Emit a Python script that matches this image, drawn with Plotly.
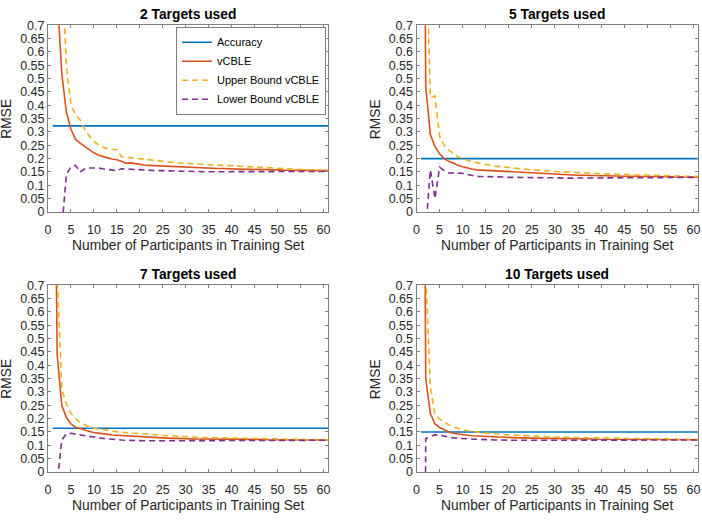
import plotly.graph_objects as go

# ---------------- data ----------------
x_participants = list(range(1, 62))

panel_titles = ["2 Targets used", "5 Targets used", "7 Targets used", "10 Targets used"]
series_names = ["Accuracy", "vCBLE", "Upper Bound vCBLE", "Lower Bound vCBLE"]

accuracy = [0.323, 0.200, 0.164, 0.150]

vcble_2 = [1.6, 0.82, 0.52, 0.375, 0.31, 0.272, 0.258, 0.245, 0.232, 0.222,
           0.213, 0.207, 0.203, 0.199, 0.196, 0.19, 0.183, 0.184, 0.181, 0.177,
           0.176, 0.175, 0.174, 0.173, 0.172, 0.171, 0.170, 0.169, 0.168, 0.168,
           0.167, 0.166, 0.166, 0.165, 0.164, 0.164, 0.163, 0.163, 0.162, 0.162,
           0.161, 0.161, 0.160, 0.160, 0.160, 0.159, 0.159, 0.158, 0.158, 0.158,
           0.157, 0.157, 0.157, 0.156, 0.156, 0.156, 0.155, 0.155, 0.155, 0.155, 0.155]
upper_2 = [2.0, 1.3, 0.95, 0.55, 0.40, 0.365, 0.345, 0.31, 0.285, 0.265,
           0.252, 0.243, 0.237, 0.235, 0.234, 0.207, 0.205, 0.203, 0.201, 0.199,
           0.197, 0.195, 0.193, 0.191, 0.190, 0.188, 0.186, 0.184, 0.183, 0.182,
           0.181, 0.180, 0.179, 0.178, 0.177, 0.176, 0.175, 0.174, 0.173, 0.172,
           0.171, 0.170, 0.169, 0.168, 0.167, 0.166, 0.166, 0.165, 0.164, 0.163,
           0.163, 0.162, 0.161, 0.160, 0.160, 0.159, 0.158, 0.158, 0.157, 0.157, 0.156]
lower_2 = [-0.6, -0.3, -0.065, 0.14, 0.17, 0.175, 0.15, 0.162, 0.165, 0.165,
           0.165, 0.162, 0.16, 0.157, 0.155, 0.162, 0.161, 0.160, 0.158, 0.157,
           0.156, 0.156, 0.155, 0.155, 0.155, 0.154, 0.154, 0.153, 0.153, 0.153,
           0.152, 0.152, 0.152, 0.151, 0.151, 0.151, 0.151, 0.150, 0.150, 0.150,
           0.150, 0.150, 0.150, 0.150, 0.151, 0.150, 0.150, 0.150, 0.151, 0.151,
           0.151, 0.151, 0.151, 0.151, 0.152, 0.151, 0.151, 0.151, 0.152, 0.152, 0.152]

vcble_5 = [3.0, 0.47, 0.29, 0.245, 0.218, 0.200, 0.19, 0.181, 0.175, 0.170,
           0.165, 0.161, 0.158, 0.157, 0.156, 0.155, 0.154, 0.153, 0.152, 0.151,
           0.150, 0.149, 0.148, 0.147, 0.146, 0.145, 0.144, 0.143, 0.142, 0.141,
           0.140, 0.140, 0.139, 0.139, 0.138, 0.138, 0.137, 0.137, 0.136, 0.136,
           0.136, 0.135, 0.135, 0.135, 0.134, 0.134, 0.134, 0.133, 0.133, 0.133,
           0.133, 0.132, 0.132, 0.132, 0.132, 0.131, 0.131, 0.131, 0.131, 0.131, 0.131]
upper_5 = [3.5, 1.1, 0.43, 0.435, 0.285, 0.25, 0.232, 0.218, 0.207, 0.200,
           0.194, 0.189, 0.185, 0.181, 0.178, 0.175, 0.172, 0.170, 0.168, 0.166,
           0.164, 0.162, 0.161, 0.159, 0.158, 0.157, 0.155, 0.154, 0.153, 0.152,
           0.151, 0.150, 0.149, 0.148, 0.147, 0.147, 0.146, 0.145, 0.145, 0.144,
           0.143, 0.143, 0.142, 0.141, 0.141, 0.140, 0.140, 0.139, 0.139, 0.138,
           0.138, 0.137, 0.137, 0.136, 0.136, 0.135, 0.135, 0.134, 0.134, 0.133, 0.133]
lower_5 = [-1.0, -0.067, 0.158, 0.05, 0.168, 0.155, 0.146, 0.145, 0.145, 0.145,
           0.141, 0.137, 0.133, 0.133, 0.133, 0.132, 0.132, 0.131, 0.131, 0.130,
           0.130, 0.130, 0.129, 0.129, 0.129, 0.129, 0.128, 0.128, 0.128, 0.128,
           0.128, 0.127, 0.127, 0.127, 0.127, 0.127, 0.127, 0.127, 0.127, 0.128,
           0.128, 0.128, 0.128, 0.128, 0.128, 0.128, 0.128, 0.129, 0.129, 0.129,
           0.129, 0.129, 0.129, 0.129, 0.130, 0.130, 0.130, 0.130, 0.130, 0.130, 0.130]

vcble_7 = [2.0, 0.44, 0.25, 0.205, 0.18, 0.168, 0.163, 0.156, 0.152, 0.148,
           0.145, 0.143, 0.141, 0.139, 0.138, 0.136, 0.135, 0.134, 0.132, 0.131,
           0.130, 0.129, 0.128, 0.128, 0.127, 0.127, 0.126, 0.126, 0.125, 0.125,
           0.125, 0.124, 0.124, 0.124, 0.123, 0.123, 0.123, 0.123, 0.123, 0.123,
           0.122, 0.122, 0.122, 0.122, 0.122, 0.122, 0.122, 0.121, 0.121, 0.121,
           0.121, 0.121, 0.121, 0.121, 0.121, 0.120, 0.120, 0.120, 0.120, 0.120, 0.120]
upper_7 = [3.0, 0.75, 0.31, 0.255, 0.22, 0.2, 0.186, 0.176, 0.169, 0.164,
           0.161, 0.158, 0.156, 0.153, 0.151, 0.149, 0.148, 0.147, 0.146, 0.145,
           0.143, 0.142, 0.140, 0.139, 0.137, 0.136, 0.134, 0.133, 0.132, 0.131,
           0.131, 0.130, 0.130, 0.129, 0.129, 0.129, 0.128, 0.128, 0.128, 0.127,
           0.127, 0.127, 0.126, 0.126, 0.126, 0.125, 0.125, 0.125, 0.124, 0.124,
           0.124, 0.123, 0.123, 0.123, 0.123, 0.122, 0.122, 0.122, 0.122, 0.121, 0.121]
lower_7 = [-0.4, -0.04, 0.12, 0.143, 0.145, 0.142, 0.139, 0.135, 0.132, 0.13,
           0.128, 0.126, 0.124, 0.122, 0.121, 0.12, 0.119, 0.118, 0.118, 0.117,
           0.117, 0.117, 0.117, 0.117, 0.117, 0.117, 0.117, 0.117, 0.117, 0.117,
           0.118, 0.118, 0.118, 0.118, 0.118, 0.118, 0.118, 0.118, 0.118, 0.118,
           0.118, 0.118, 0.118, 0.118, 0.118, 0.118, 0.118, 0.118, 0.119, 0.119,
           0.119, 0.119, 0.119, 0.119, 0.119, 0.119, 0.119, 0.119, 0.119, 0.119, 0.119]

vcble_10 = [3.3, 0.35, 0.22, 0.18, 0.167, 0.157, 0.15, 0.145, 0.142, 0.14,
            0.138, 0.136, 0.135, 0.134, 0.133, 0.132, 0.131, 0.130, 0.130, 0.129,
            0.129, 0.128, 0.128, 0.127, 0.127, 0.127, 0.126, 0.126, 0.126, 0.125,
            0.125, 0.125, 0.125, 0.124, 0.124, 0.124, 0.124, 0.124, 0.123, 0.123,
            0.123, 0.123, 0.123, 0.123, 0.123, 0.122, 0.122, 0.122, 0.122, 0.122,
            0.122, 0.122, 0.122, 0.122, 0.122, 0.122, 0.121, 0.121, 0.121, 0.121, 0.121]
upper_10 = [5.0, 0.75, 0.32, 0.215, 0.198, 0.186, 0.177, 0.169, 0.163, 0.158,
            0.155, 0.152, 0.15, 0.148, 0.146, 0.144, 0.142, 0.141, 0.14, 0.139,
            0.138, 0.137, 0.136, 0.135, 0.134, 0.133, 0.133, 0.132, 0.132, 0.131,
            0.131, 0.130, 0.130, 0.130, 0.129, 0.129, 0.129, 0.128, 0.128, 0.128,
            0.127, 0.127, 0.127, 0.127, 0.126, 0.126, 0.126, 0.126, 0.125, 0.125,
            0.125, 0.125, 0.124, 0.124, 0.124, 0.124, 0.123, 0.123, 0.123, 0.123, 0.122]
lower_10 = [-3.0, 0.125, 0.132, 0.14, 0.138, 0.134, 0.131, 0.128, 0.126, 0.125,
            0.124, 0.123, 0.122, 0.121, 0.121, 0.120, 0.120, 0.120, 0.119, 0.119,
            0.119, 0.119, 0.119, 0.119, 0.119, 0.119, 0.119, 0.119, 0.119, 0.119,
            0.119, 0.119, 0.119, 0.119, 0.119, 0.119, 0.119, 0.119, 0.119, 0.119,
            0.119, 0.119, 0.119, 0.120, 0.120, 0.120, 0.120, 0.120, 0.120, 0.120,
            0.120, 0.120, 0.120, 0.120, 0.120, 0.120, 0.120, 0.120, 0.120, 0.120, 0.120]

vcble_sets = [vcble_2, vcble_5, vcble_7, vcble_10]
upper_sets = [upper_2, upper_5, upper_7, upper_10]
lower_sets = [lower_2, lower_5, lower_7, lower_10]

x_tickvals = list(range(0, 61, 5))
y_tickvals = [0, 0.05, 0.1, 0.15, 0.2, 0.25, 0.3, 0.35, 0.4, 0.45, 0.5, 0.55, 0.6, 0.65, 0.7]
y_ticktext = ["0", "0.05", "0.1", "0.15", "0.2", "0.25", "0.3", "0.35", "0.4", "0.45",
              "0.5", "0.55", "0.6", "0.65", "0.7"]
x_label = "Number of Participants in Training Set"
y_label = "RMSE"

# ---------------- style ----------------
W, H = 702, 524
colors = ["#0072BD", "#D95319", "#EDB120", "#7E2F8E"]
FONT = "Liberation Sans, Arial, Helvetica, sans-serif"
TXT = "#262626"
AXC = "#808080"

# panel pixel boxes: (left, right, top, bottom)
boxes = [(48, 328, 25.3, 212), (416.5, 698, 25.3, 212),
         (48, 328, 285.3, 472), (416.5, 698, 285.3, 472)]

fig = go.Figure()
annotations = []

for i in range(4):
    l, r, t, b = boxes[i]
    xa = "x" if i == 0 else f"x{i+1}"
    ya = "y" if i == 0 else f"y{i+1}"
    xs = [x_participants[0], x_participants[-1]]
    fig.add_trace(go.Scatter(x=xs, y=[accuracy[i], accuracy[i]], mode="lines",
                             line=dict(color=colors[0], width=1.6),
                             name=series_names[0], showlegend=(i == 0),
                             xaxis=xa, yaxis=ya))
    fig.add_trace(go.Scatter(x=x_participants, y=vcble_sets[i], mode="lines",
                             line=dict(color=colors[1], width=1.6),
                             name=series_names[1], showlegend=(i == 0),
                             xaxis=xa, yaxis=ya))
    fig.add_trace(go.Scatter(x=x_participants, y=upper_sets[i], mode="lines",
                             line=dict(color=colors[2], width=1.6, dash="6px,4px"),
                             name=series_names[2], showlegend=(i == 0),
                             xaxis=xa, yaxis=ya))
    fig.add_trace(go.Scatter(x=x_participants, y=lower_sets[i], mode="lines",
                             line=dict(color=colors[3], width=1.6, dash="6px,4px"),
                             name=series_names[3], showlegend=(i == 0),
                             xaxis=xa, yaxis=ya))

    axis_common = dict(showgrid=False, zeroline=False, showline=True, linecolor=AXC,
                       linewidth=1, mirror="ticks", ticks="inside", ticklen=3,
                       tickcolor=AXC, tickwidth=1, automargin=False,
                       tickfont=dict(family=FONT, size=12.5, color=TXT))
    xkey = "xaxis" if i == 0 else f"xaxis{i+1}"
    ykey = "yaxis" if i == 0 else f"yaxis{i+1}"
    fig.update_layout({
        xkey: dict(domain=[l / W, r / W], range=[0, 61], anchor=ya,
                   tickvals=x_tickvals, ticklabelstandoff=6, **axis_common),
        ykey: dict(domain=[1 - b / H, 1 - t / H], range=[0, 0.7], anchor=xa,
                   tickvals=y_tickvals, ticktext=y_ticktext, **axis_common),
    })
    cx = (l + r) / 2 / W
    annotations.append(dict(text="<b>" + panel_titles[i] + "</b>", x=cx, y=1 - (t - 10.5) / H,
                            xref="paper", yref="paper", showarrow=False,
                            font=dict(family=FONT, size=13.8, color="#000000"),
                            xanchor="center", yanchor="middle"))
    annotations.append(dict(text=x_label, x=cx, y=1 - (b + 33) / H,
                            xref="paper", yref="paper", showarrow=False,
                            font=dict(family=FONT, size=13.8, color=TXT),
                            xanchor="center", yanchor="middle"))
    annotations.append(dict(text=y_label, x=(l - 41) / W, y=1 - (t + b) / 2 / H,
                            xref="paper", yref="paper", showarrow=False, textangle=-90,
                            font=dict(family=FONT, size=13.8, color=TXT),
                            xanchor="center", yanchor="middle"))

fig.update_layout(
    template="none",
    width=W, height=H,
    margin=dict(l=0, r=0, t=0, b=0, autoexpand=False),
    paper_bgcolor="white", plot_bgcolor="white",
    annotations=annotations,
    showlegend=True,
    legend=dict(x=326 / W, y=1 - 26.7 / H, xanchor="right", yanchor="top",
                bgcolor="white", bordercolor=AXC, borderwidth=1,
                font=dict(family=FONT, size=11, color="#000000"),
                tracegroupgap=0),
)

fig.write_html("out.html", config={"displayModeBar": False},
               post_script="document.body.style.margin='0';document.body.style.padding='0';"
                           "document.documentElement.style.overflow='hidden';")
